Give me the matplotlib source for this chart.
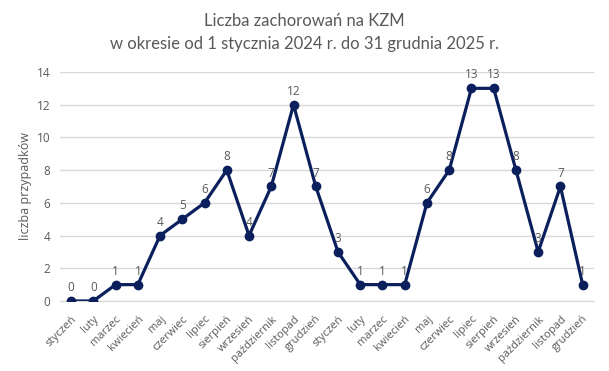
import matplotlib
matplotlib.use("Agg")
import matplotlib.pyplot as plt

months = ["styczeń", "luty", "marzec", "kwiecień", "maj", "czerwiec", "lipiec",
          "sierpień", "wrzesień", "październik", "listopad", "grudzień"]
labels = months + months
values = [0, 0, 1, 1, 4, 5, 6, 8, 4, 7, 12, 7,
          3, 1, 1, 1, 6, 8, 13, 13, 8, 3, 7, 1]

plt.rcParams['font.family'] = ['Open Sans', 'DejaVu Sans']
gray = '#595959'
navy = '#0B1F5C'

fig = plt.figure(figsize=(6.09, 3.71), dpi=100)
ax = fig.add_axes([0.0985, 0.1887, 0.8765, 0.6173])
x = list(range(len(values)))
ax.plot(x, values, color=navy, lw=2.3, marker='o', ms=6, zorder=3)
for xi, v in zip(x, values):
    ax.annotate(str(v), (xi, v), xytext=(0, 5), textcoords='offset points',
                ha='center', va='bottom', fontsize=8.5, color=gray)

ax.set_xlim(-0.5, len(values) - 0.5)
ax.set_ylim(0, 14)
ax.set_yticks(range(0, 15, 2))
ax.set_xticks(x)
ax.set_xticklabels(labels, rotation=45, ha='right', rotation_mode='anchor',
                   fontsize=8, color=gray)
ax.tick_params(axis='x', length=0, pad=9)
ax.tick_params(axis='y', length=0, labelsize=8.5, labelcolor=gray, pad=7)
ax.grid(axis='y', color='#D9D9D9', lw=1)
ax.set_axisbelow(True)
for s in ['top', 'right', 'left']:
    ax.spines[s].set_visible(False)
ax.spines['bottom'].set_color('#D9D9D9')
ax.set_ylabel('liczba przypadków', fontsize=9, color=gray, labelpad=3)

fig.text(0.5, 0.943, 'Liczba zachorowań na KZM', ha='center', va='center',
         fontsize=12, color=gray, family=['Lato', 'DejaVu Sans'])
fig.text(0.5, 0.882, 'w okresie od 1 stycznia 2024 r. do 31 grudnia 2025 r.',
         ha='center', va='center', fontsize=12, color=gray, family=['Lato', 'DejaVu Sans'])

fig.savefig('out.png', dpi=100)
